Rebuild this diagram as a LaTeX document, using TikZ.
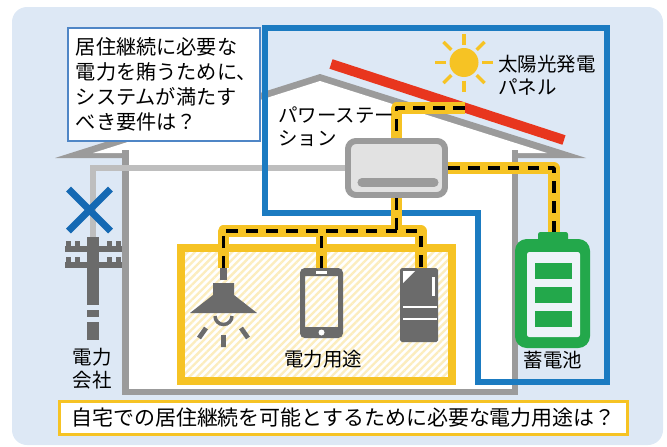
\documentclass[tikz,border=0pt]{standalone}
\usepackage{fontspec}
\setmainfont{Noto Sans CJK JP}
\usetikzlibrary{patterns.meta}
\definecolor{skyback}{HTML}{DDE8F5}
\definecolor{sysblue}{HTML}{1B7BC1}
\definecolor{noteblue}{HTML}{4F86C6}
\definecolor{crossblue}{HTML}{1569B3}
\definecolor{wallgray}{HTML}{9B9B9B}
\definecolor{wiregray}{HTML}{BEBEBE}
\definecolor{icongray}{HTML}{6B6B6B}
\definecolor{feedyellow}{HTML}{F6C324}
\definecolor{hatchyellow}{HTML}{FCEDBE}
\definecolor{battgreen}{HTML}{23A84B}
\definecolor{battinner}{HTML}{EEF3F9}
\definecolor{panelred}{HTML}{E8361E}
\definecolor{stationfill}{HTML}{E2E2E2}
\newcommand\lblfnt{\fontsize{16.6pt}{19.5pt}\selectfont}
\newcommand\notefnt{\fontsize{17.2pt}{21.3pt}\selectfont}
\newcommand\askfnt{\fontsize{17.9pt}{21pt}\selectfont}
\begin{document}
\begin{tikzpicture}[x=0.03cm,y=-0.03cm,
  feed/.style={draw=feedyellow,line width=9.4pt,line join=round,
    postaction={draw=black,line width=3pt,dash pattern=on 10pt off 7pt}},
  wall/.style={draw=wallgray,line width=5.2pt},
  stationbox/.style={draw=wallgray,fill=stationfill,line width=5.1pt,rounded corners=6.8pt,
    minimum width=2.91cm,minimum height=1.62cm,inner sep=0pt},
  lbl/.style={font=\lblfnt,inner sep=0pt}]
\useasboundingbox (0,0) rectangle (667,447);
\fill[skyback,rounded corners=12.8pt] (12,7) rectangle (663,445);
% house
\fill[wallgray] (55,158) -- (320,74) -- (586,158) -- cycle;
\fill[white] (93,153) -- (320,81) -- (547,153) -- (512,153) -- (512,389) -- (129,389) -- (129,153) -- cycle;
\draw[wall] (125.5,150) -- (125.5,392) -- (515,392) -- (515,150);
% solar panel and sun
\draw[panelred,line width=8.5pt] (331,64) -- (564,140);
\fill[feedyellow] (464,62.5) circle (14.5);
\foreach \a in {0,45,...,315}
  \draw[feedyellow,line width=3pt] (464,62.5) ++(\a:18) -- ++(\a:11);
% loads area
\fill[pattern={Lines[angle=45,distance=4.5pt,line width=2pt]},pattern color=hatchyellow]
  (181,248) rectangle (452,381);
\draw[feedyellow,line width=6pt] (181,248) rectangle (452,381);
% power station
\node[stationbox] (station) at (396.5,168) {};
\draw[wallgray,line width=7.7pt,line cap=round] (362,182.5) -- (434,182.5);
% grid wire
\coordinate (poletop) at (93,237);
\draw[wiregray,line width=4.3pt] (poletop) |- (station.west);
% system boundary
\draw[sysblue,line width=4.3pt] (265,28) -- (607,28) -- (607,382) -- (478,382) -- (478,213) -- (265,213) -- cycle;
% feeds
\coordinate (paneltap) at (465,108);
\coordinate (battop) at (554,232);
\coordinate (lamptop) at (223.5,268);
\coordinate (phonetop) at (321.5,268);
\coordinate (pctop) at (421,268);
\coordinate (busleft) at (223.5,231);
\coordinate (busright) at (421,231);
\draw[feed] (paneltap) -| (station.north);
\draw[feed] (station.east) -| (battop);
\draw[feed] (lamptop) -- (busleft) -- (busright) -- (pctop)
  (phonetop) -- (phonetop |- busleft)
  (station.south) -- (station.south |- busleft);
% lamp
\fill[icongray] (220,268) rectangle (227,280);
\fill[icongray] (213,283) -- (234,283) -- (234,295) -- (257,313) -- (190,313) -- (213,295) -- cycle;
\draw[icongray,line width=3pt] (215,316) arc (180:0:8.5);
\draw[icongray,line width=4pt] (223.5,335) -- (223.5,347) (199,338) -- (206,328) (248,338) -- (241,328);
% phone
\fill[icongray,even odd rule] [rounded corners=4pt] (300,268) rectangle (343,338)
  [sharp corners] (305,276) rectangle (338,327);
\fill[white] (316,271) rectangle (327,273.5);
\fill[white] (321.5,332.5) circle (3);
% pc
\fill[icongray,rounded corners=1.5pt] (400,268) rectangle (438,342);
\fill[white] (403,271) -- (415,271) -- (403,283) -- cycle;
\fill[white] (432,277) rectangle (434.5,296);
\draw[white,line width=2pt] (403,307) -- (437,307) (403,319) -- (437,319);
% battery
\fill[battgreen,rounded corners=2pt] (538,232) rectangle (568,242);
\fill[battgreen,rounded corners=10pt] (515,239) rectangle (590,348);
\fill[battinner,rounded corners=2pt] (527,252) rectangle (580,337);
\foreach \y in {263,287,311}
  \fill[battgreen] (535,\y) rectangle (572,\y+16);
% pole
\fill[icongray] (87,237) rectangle (99,305);
\fill[icongray] (87,310) rectangle (99,317);
\fill[icongray] (87,322) rectangle (99,340);
\foreach \y in {246,262} {
  \fill[icongray] (65,\y) rectangle (122,\y+6);
  \foreach \x in {68,77,109,118}
    \fill[icongray] (\x-2.5,\y-5) rectangle (\x+2.5,\y);
}
\draw[crossblue,line width=6pt] (68.5,189) -- (110.5,231) (68.5,231) -- (110.5,189);
% labels
\node[draw=noteblue,fill=white,line width=1.7pt,font=\notefnt,align=left,text width=5.28cm,
  minimum width=5.76cm,minimum height=3.39cm,inner xsep=0.24cm,inner ysep=0pt] (note) at (164,84.5)
  {居住継続に必要な\\電力を賄うために、\\システムが満たす\\べき要件は？};
\node[lbl,anchor=west,align=left] (pvlabel) at (498,75) {太陽光発電\\パネル};
\node[lbl,anchor=west,align=left] (pslabel) at (278,127) {パワーステー\\ション};
\node[lbl,align=center] (gridlabel) at (92,369) {電力\\会社};
\node[lbl] (loadlabel) at (323,359) {電力用途};
\node[lbl] (battlabel) at (553,360) {蓄電池};
\node[draw=feedyellow,fill=white,line width=2.6pt,font=\askfnt,
  minimum width=17.04cm,minimum height=0.99cm,inner sep=0pt] (ask) at (343.5,418)
  {自宅での居住継続を可能とするために必要な電力用途は？};
\end{tikzpicture}
\end{document}
